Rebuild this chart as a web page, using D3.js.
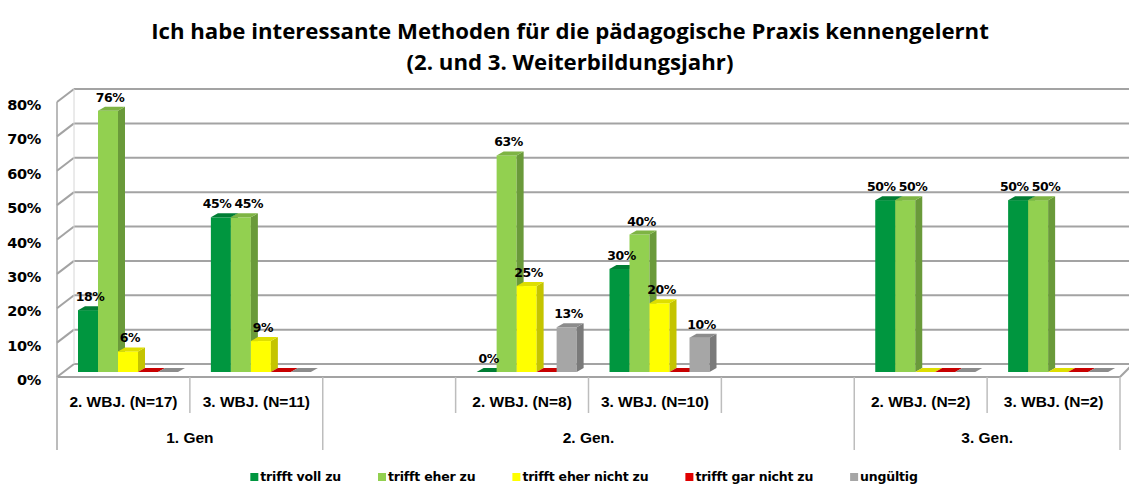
<!DOCTYPE html>
<html>
<head>
<meta charset="utf-8">
<script src="https://cdn.jsdelivr.net/npm/d3@7"></script>
<style>
  html, body { margin: 0; padding: 0; background: #fff; }
  svg { display: block; }
</style>
</head>
<body>
<svg id="chart" width="1129" height="487"></svg>
<script>
// ---------- DATA ----------
const titleLines = ["Ich habe interessante Methoden für die pädagogische Praxis kennengelernt",
                    "(2. und 3. Weiterbildungsjahr)"];
const subCategories = ["2. WBJ. (N=17)", "3. WBJ. (N=11)", "", "2. WBJ. (N=8)", "3. WBJ. (N=10)", "", "2. WBJ. (N=2)", "3. WBJ. (N=2)"];
const groupNames = ["1. Gen", "2. Gen.", "3. Gen."];
const groupOfSlot = [0, 0, 1, 1, 1, 1, 2, 2];
const seriesNames = ["trifft voll zu", "trifft eher zu", "trifft eher nicht zu", "trifft gar nicht zu", "ungültig"];
// values per slot (null = empty category, no bar)
const trifftVollZu      = [0.18, 0.45, null, 0.00, 0.30, null, 0.50, 0.50];
const trifftEherZu      = [0.76, 0.45, null, 0.63, 0.40, null, 0.50, 0.50];
const trifftEherNichtZu = [0.06, 0.09, null, 0.25, 0.20, null, 0.00, 0.00];
const trifftGarNichtZu  = [0.00, 0.00, null, 0.00, 0.00, null, 0.00, 0.00];
const ungueltig         = [0.00, 0.00, null, 0.13, 0.10, null, 0.00, 0.00];
// zero values that still carry a visible data label: [seriesIndex, slotIndex]
const zeroLabels = [[0, 3]];
const yTicks = [0, 0.1, 0.2, 0.3, 0.4, 0.5, 0.6, 0.7, 0.8];

const seriesValues = [trifftVollZu, trifftEherZu, trifftEherNichtZu, trifftGarNichtZu, ungueltig];
const frontColors = ["#00963f", "#92d050", "#ffff00", "#e00000", "#a6a6a6"];
const sideColors  = ["#00702e", "#6a9a3a", "#c4c400", "#a00000", "#7a7a7a"];
const topColors   = ["#007d34", "#7eb444", "#dede00", "#c80000", "#8c8c8c"];

// ---------- LAYOUT ----------
const svg = d3.select("#chart");
const W = 1129;
const frontBase = 377, backBase = 364, barBase = 372;
const backDX = 17;             // back wall offset to the right
const barDX = 7, barDY = 4;    // bar depth
const plotLeft = 57, plotRight = 1120;

const slot = d3.scaleBand().domain(d3.range(subCategories.length)).range([plotLeft, plotRight]).padding(0);
const inner = d3.scaleBand().domain(d3.range(seriesNames.length)).range([21, 121]).padding(0);
const h = d3.scaleLinear().domain([0, 0.8]).range([0, 275]);

const gridColor = "#a3a3a3";
const boldFont = "'DejaVu Sans', sans-serif";

// Title
const titleFont = "'Open Sans', sans-serif";
const t1 = svg.append("text").attr("x", 570).attr("y", 39).attr("text-anchor", "middle")
  .attr("font-family", titleFont).attr("font-weight", "bold").attr("font-size", 22).attr("fill", "#000")
  .text(titleLines[0]);
const w1 = t1.node().getComputedTextLength();
const fs = 22 * 838 / w1;
t1.attr("font-size", fs);
svg.append("text").attr("x", 570).attr("y", 70).attr("text-anchor", "middle")
  .attr("font-family", titleFont).attr("font-weight", "bold").attr("font-size", fs).attr("fill", "#000")
  .text(titleLines[1]);

// Back wall gridlines
const grid = svg.append("g");
yTicks.forEach(v => {
  grid.append("line")
    .attr("x1", plotLeft + backDX).attr("x2", W)
    .attr("y1", backBase - h(v)).attr("y2", backBase - h(v))
    .attr("stroke", gridColor).attr("stroke-width", 2);
  grid.append("line")
    .attr("x1", plotLeft).attr("y1", frontBase - h(v))
    .attr("x2", plotLeft + backDX).attr("y2", backBase - h(v))
    .attr("stroke", gridColor).attr("stroke-width", 2);
});
grid.append("line").attr("x1", plotLeft + backDX).attr("x2", plotLeft + backDX)
  .attr("y1", backBase - h(0.8)).attr("y2", backBase).attr("stroke", "#d6d6d6").attr("stroke-width", 1);
grid.append("line").attr("x1", plotLeft).attr("x2", plotLeft)
  .attr("y1", frontBase - h(0.8)).attr("y2", 450).attr("stroke", gridColor).attr("stroke-width", 1.5);
grid.append("line").attr("x1", plotLeft).attr("x2", plotRight)
  .attr("y1", frontBase).attr("y2", frontBase).attr("stroke", gridColor).attr("stroke-width", 2);
grid.append("line").attr("x1", plotRight).attr("x2", plotRight + 10)
  .attr("y1", frontBase).attr("y2", frontBase - 10).attr("stroke", gridColor).attr("stroke-width", 2);

// Y tick labels
svg.append("g").selectAll("text").data(yTicks).join("text")
  .attr("x", 41).attr("y", d => frontBase - h(d) + 8)
  .attr("text-anchor", "end")
  .attr("font-family", boldFont).attr("font-weight", "bold").attr("font-size", 14.5)
  .attr("letter-spacing", -0.3)
  .attr("fill", "#000")
  .text(d => d3.format(".0%")(d));

// Bars
const bars = svg.append("g");
const labels = [];
subCategories.forEach((cat, si) => {
  seriesValues.forEach((vals, k) => {
    const v = vals[si];
    if (v === null || v === undefined) return;
    const x = slot(si) + inner(k);
    const bw = inner.bandwidth();
    const top = barBase - h(v);
    if (v > 0) {
      bars.append("rect").attr("x", x).attr("y", top).attr("width", bw).attr("height", h(v))
        .attr("fill", frontColors[k]);
      bars.append("path").attr("d", `M${x + bw},${top} L${x + bw + barDX},${top - barDY} L${x + bw + barDX},${barBase - barDY} L${x + bw},${barBase} Z`)
        .attr("fill", sideColors[k]);
    }
    bars.append("path").attr("d", `M${x},${top} L${x + bw},${top} L${x + bw + barDX},${top - barDY} L${x + barDX},${top - barDY} Z`)
      .attr("fill", topColors[k]);
    const showLabel = v > 0 || zeroLabels.some(z => z[0] === k && z[1] === si);
    if (showLabel) labels.push({ slot: si, x: x + bw / 2 + 2, y: top - 9, v });
  });
});

// Data labels (with simple overlap nudging inside a slot)
const labelSel = svg.append("g").selectAll("text").data(labels).join("text")
  .attr("x", d => d.x).attr("y", d => d.y).attr("text-anchor", "middle")
  .attr("font-family", boldFont).attr("font-weight", "bold").attr("font-size", 12.5)
  .attr("letter-spacing", -0.4)
  .attr("fill", "#000")
  .text(d => d3.format(".0%")(d.v));
labelSel.each(function (d) { d.w = this.getComputedTextLength(); });
for (let i = 1; i < labels.length; i++) {
  const a = labels[i - 1], b = labels[i];
  if (a.slot !== b.slot || Math.abs(a.y - b.y) > 12) continue;
  const need = (a.w + b.w) / 2 + 3 - (b.x - a.x);
  if (need > 0) { a.x -= need / 2; b.x += need / 2; }
}
labelSel.attr("x", d => d.x);

// Category axis separators
const axis = svg.append("g");
d3.range(subCategories.length + 1).forEach(i => {
  const x = i < subCategories.length ? slot(i) : plotRight;
  const isGroup = i === 0 || i === subCategories.length || groupOfSlot[i] !== groupOfSlot[i - 1];
  axis.append("line").attr("x1", x).attr("x2", x)
    .attr("y1", frontBase).attr("y2", isGroup ? 450 : 413)
    .attr("stroke", "#bdbdbd").attr("stroke-width", 1.5);
});
axis.selectAll("text.sub").data(subCategories).join("text").attr("class", "sub")
  .attr("x", (d, i) => slot(i) + slot.bandwidth() / 2).attr("y", 407)
  .attr("text-anchor", "middle")
  .attr("font-family", "'Liberation Sans', Arial, sans-serif").attr("font-weight", "bold").attr("font-size", 15.5)
  .attr("fill", "#000")
  .text(d => d);
groupNames.forEach((g, gi) => {
  const idx = groupOfSlot.map((gg, i) => gg === gi ? i : -1).filter(i => i >= 0);
  const x0 = slot(idx[0]), x1 = slot(idx[idx.length - 1]) + slot.bandwidth();
  axis.append("text").attr("x", (x0 + x1) / 2).attr("y", 443).attr("text-anchor", "middle")
    .attr("font-family", "'Liberation Sans', Arial, sans-serif").attr("font-weight", "bold").attr("font-size", 15.5)
    .attr("fill", "#000").text(g);
});

// Legend
const legend = svg.append("g");
let lx = 0;
const legendGap = 37;
seriesNames.forEach((n, k) => {
  const g = legend.append("g");
  g.append("rect").attr("x", lx).attr("y", -8).attr("width", 8).attr("height", 8).attr("fill", frontColors[k]);
  const t = g.append("text").attr("x", lx + 10).attr("y", 0)
    .attr("font-family", boldFont).attr("font-weight", "bold").attr("font-size", 12.5)
    .attr("letter-spacing", -0.2)
    .attr("fill", "#000").text(n);
  lx += 10 + t.node().getComputedTextLength() + legendGap;
});
const legendW = lx - legendGap;
legend.attr("transform", `translate(${584 - legendW / 2},${481})`);
</script>
</body>
</html>
